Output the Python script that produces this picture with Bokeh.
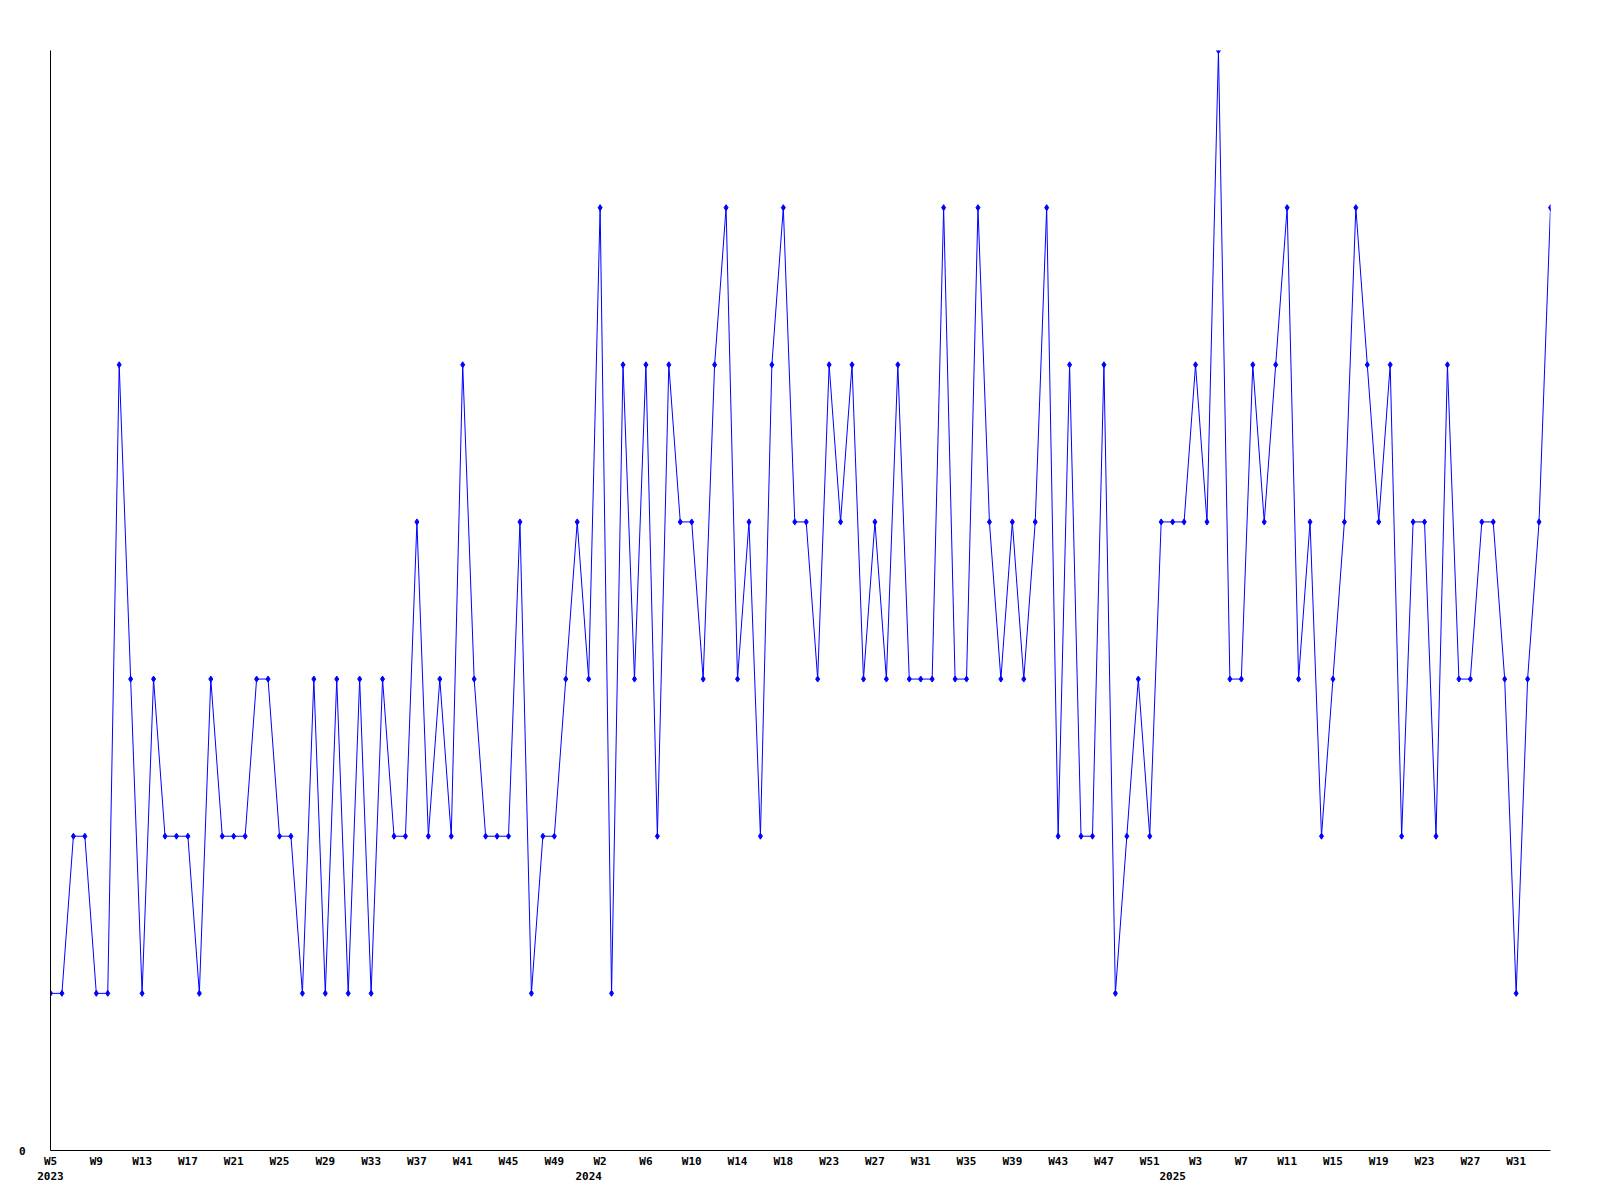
from bokeh.plotting import figure
from bokeh.models import Range1d, FixedTicker, LinearAxis
from bokeh.embed import file_html
from bokeh.resources import INLINE

# Weekly values, one per point (2023 W5 onward)
values = [
    1, 1, 2, 2, 1, 1, 5, 3, 1, 3, 2, 2, 2, 1, 3, 2, 2, 2, 3, 3,
    2, 2, 1, 3, 1, 3, 1, 3, 1, 3, 2, 2, 4, 2, 3, 2, 5, 3, 2, 2,
    2, 4, 1, 2, 2, 3, 4, 3, 6, 1, 5, 3, 5, 2, 5, 4, 4, 3, 5, 6,
    3, 4, 2, 5, 6, 4, 4, 3, 5, 4, 5, 3, 4, 3, 5, 3, 3, 3, 6, 3,
    3, 6, 4, 3, 4, 3, 4, 6, 2, 5, 2, 2, 5, 1, 2, 3, 2, 4, 4, 4,
    5, 4, 7, 3, 3, 5, 4, 5, 6, 3, 4, 2, 3, 4, 6, 5, 4, 5, 2, 4,
    4, 2, 5, 3, 3, 4, 4, 3, 1, 3, 4, 6,
]

# Week tick labels, every 4th point
week_labels = [
    "W5", "W9", "W13", "W17", "W21", "W25", "W29", "W33", "W37", "W41",
    "W45", "W49", "W2", "W6", "W10", "W14", "W18", "W23", "W27", "W31",
    "W35", "W39", "W43", "W47", "W51", "W3", "W7", "W11", "W15", "W19",
    "W23", "W27", "W31",
]
week_step = 4

# Year labels and the point index where each year starts
year_labels = ["2023", "2024", "2025"]
year_start_index = [0, 47, 98]

x = list(range(len(values)))

FONT = "DejaVu Sans Mono"
FSIZE = "11px"

p = figure(
    width=1592, height=1194,
    output_backend="svg", toolbar_location=None,
    x_range=Range1d(0, len(values) - 1), y_range=Range1d(0, 7),
    min_border_left=50, min_border_top=50, min_border_right=42, min_border_bottom=44,
    background_fill_color="white", border_fill_color="white",
)
p.outline_line_color = None
p.xgrid.visible = False
p.ygrid.visible = False

p.line(x, values, line_color="#0000ff", line_width=1)
p.scatter(x, values, marker="diamond", size=6, fill_color="#0000ff", line_color="#0000ff")

# primary x axis: week labels
week_ticks = [i * week_step for i in range(len(week_labels))]
xa = p.xaxis[0]
xa.ticker = FixedTicker(ticks=week_ticks)
xa.major_label_overrides = {t: lab for t, lab in zip(week_ticks, week_labels)}
xa.axis_line_color = "black"
xa.major_tick_line_color = None
xa.minor_tick_line_color = None
xa.major_tick_out = 0
xa.major_tick_in = 0
xa.major_label_standoff = 4
xa.major_label_text_font = FONT
xa.major_label_text_font_size = FSIZE
xa.major_label_text_font_style = "bold"
xa.major_label_text_color = "black"

# secondary x axis: year labels
ya2 = LinearAxis(
    ticker=FixedTicker(ticks=year_start_index),
    major_label_overrides={t: lab for t, lab in zip(year_start_index, year_labels)},
)
ya2.axis_line_color = None
ya2.major_tick_line_color = None
ya2.minor_tick_line_color = None
ya2.major_tick_out = 0
ya2.major_tick_in = 0
ya2.major_label_standoff = 1
ya2.major_label_text_font = FONT
ya2.major_label_text_font_size = FSIZE
ya2.major_label_text_font_style = "bold"
ya2.major_label_text_color = "black"
p.add_layout(ya2, "below")

# y axis: only the zero label
yax = p.yaxis[0]
yax.ticker = FixedTicker(ticks=[0])
yax.axis_line_color = "black"
yax.major_tick_line_color = None
yax.minor_tick_line_color = None
yax.major_tick_out = 0
yax.major_tick_in = 0
yax.major_label_standoff = 25
yax.major_label_text_font = FONT
yax.major_label_text_font_size = FSIZE
yax.major_label_text_font_style = "bold"
yax.major_label_text_color = "black"

open("out.html", "w").write(file_html(p, INLINE))
